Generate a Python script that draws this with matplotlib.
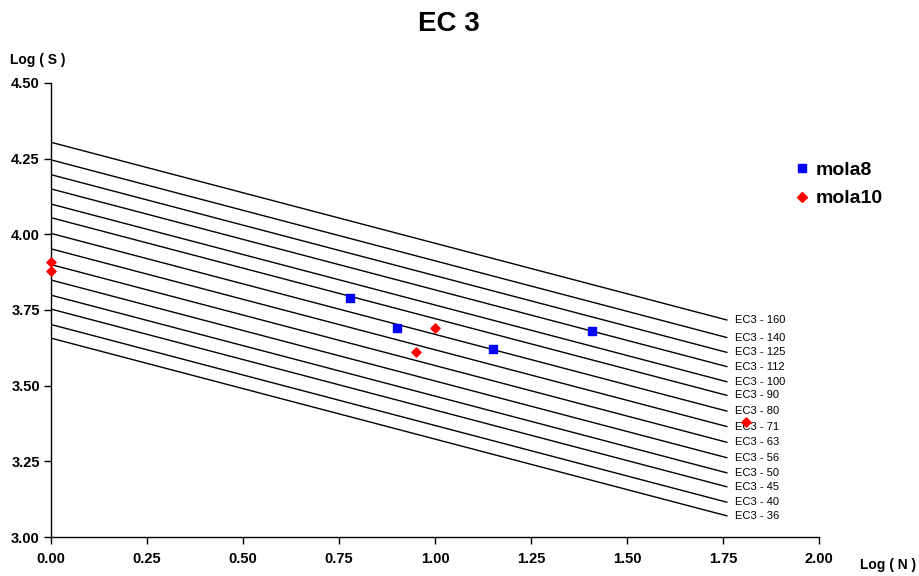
import matplotlib
matplotlib.use('Agg')
import matplotlib.pyplot as plt
from matplotlib.lines import Line2D

plt.rcParams['font.family'] = ['Liberation Sans', 'DejaVu Sans']

# EC3 detail categories and their lines (Log S at Log N = 0 and at Log N = 1.76)
categories = [160, 140, 125, 112, 100, 90, 80, 71, 63, 56, 50, 45, 40, 36]
x_line = [0.0, 1.76]
y_start = [4.304, 4.246, 4.197, 4.150, 4.100, 4.055, 4.003, 3.952, 3.900, 3.849, 3.799, 3.753, 3.702, 3.657]
y_end = [3.717, 3.659, 3.610, 3.563, 3.513, 3.468, 3.416, 3.365, 3.313, 3.262, 3.212, 3.166, 3.115, 3.070]

# test results
mola8_x = [0.78, 0.90, 1.15, 1.41]
mola8_y = [3.79, 3.69, 3.62, 3.68]
mola10_x = [0.0, 0.0, 1.0, 0.95, 1.81]
mola10_y = [3.91, 3.88, 3.69, 3.61, 3.38]

x_ticks = [0.0, 0.25, 0.5, 0.75, 1.0, 1.25, 1.5, 1.75, 2.0]
y_ticks = [3.0, 3.25, 3.5, 3.75, 4.0, 4.25, 4.5]

fig = plt.figure(figsize=(9.2, 5.76), dpi=100)
ax = fig.add_axes([0.0554, 0.0677, 0.8348, 0.7883])

for cat, y0, y1 in zip(categories, y_start, y_end):
    ax.plot(x_line, [y0, y1], color='black', lw=1.0, zorder=2)
    ax.text(x_line[1] + 0.02, y1, f'EC3 - {cat}', fontsize=8, va='center', ha='left')

ax.scatter(mola8_x, mola8_y, marker='s', s=36, color='#0000ff', zorder=3, clip_on=False)
ax.scatter(mola10_x, mola10_y, marker='D', s=22, color='#ff0000', zorder=3, clip_on=False)

ax.set_xlim(0, 2.0)
ax.set_ylim(3.0, 4.5)
ax.set_xticks(x_ticks)
ax.set_yticks(y_ticks)
ax.set_xticklabels([f'{v:.2f}' for v in x_ticks], fontsize=10.5, fontweight='bold')
ax.set_yticklabels([f'{v:.2f}' for v in y_ticks], fontsize=10.5, fontweight='bold')
ax.tick_params(direction='out', length=5, width=1)
ax.tick_params(axis='x', pad=6)
ax.tick_params(axis='y', pad=3)
for side in ['top', 'right']:
    ax.spines[side].set_visible(False)
for side in ['left', 'bottom']:
    ax.spines[side].set_linewidth(1.0)

fig.text(0.488, 0.958, 'EC 3', fontsize=20, fontweight='bold', ha='center', va='center')
fig.text(0.011, 0.895, 'Log ( S )', fontsize=10, fontweight='bold', ha='left', va='center')
fig.text(0.935, 0.019, 'Log ( N )', fontsize=10, fontweight='bold', ha='left', va='center')

handles = [
    Line2D([], [], marker='s', ls='none', color='#0000ff', markersize=6),
    Line2D([], [], marker='D', ls='none', color='#ff0000', markersize=5),
]
fig.legend(handles, ['mola8', 'mola10'], loc='upper left', bbox_to_anchor=(0.842, 0.75),
           frameon=False, prop={'size': 14, 'weight': 'bold'}, handletextpad=0.2,
           handlelength=1.0, labelspacing=0.55)

fig.savefig('out.png', dpi=100)
